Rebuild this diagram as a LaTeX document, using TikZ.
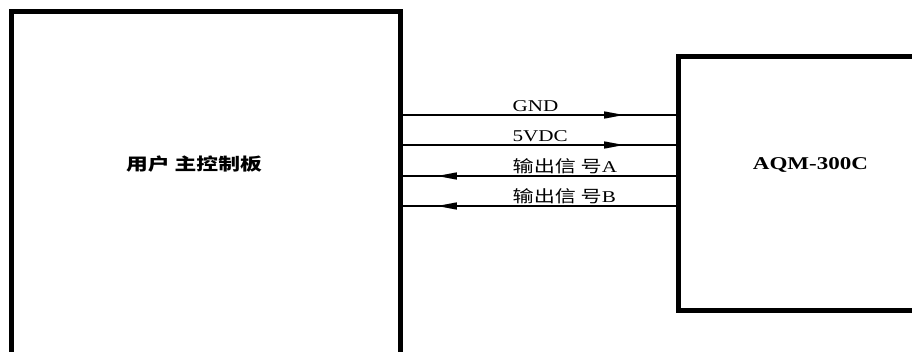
\documentclass[tikz,border=0pt]{standalone}
\usepackage{fontspec}
\setmainfont{Liberation Serif}[FakeStretch=1.28]
\newfontfamily\cjk{Noto Sans CJK SC}[FakeStretch=1.28]
\usetikzlibrary{arrows.meta,decorations.markings}
\tikzset{
>={Triangle[length=20pt,width=7pt]},
main node/.style={draw,line width=5pt,inner sep=0pt},
filo/.style={line width=1.5pt},
avanti/.style={postaction={decorate},decoration={markings,mark=at position #1 with {\arrow{>}}}},
indietro/.style={postaction={decorate},decoration={markings,mark=at position #1 with {\arrowreversed{>}}}},
etichetta/.style={anchor=base west,yshift=3.5pt,inner sep=0pt,font=\fontsize{16.5}{18}\selectfont}}

\begin{document}
\begin{tikzpicture}[x=1pt,y=-1pt]
\useasboundingbox (0,0) rectangle (912,351);

\node[main node,minimum width=388.5pt,minimum height=389pt] (scheda) at (205.75,205.5) {};
\node[main node,minimum width=281.5pt,minimum height=254.5pt] (aqm) at (819.25,183.25) {};

\node[font=\cjk\bfseries\fontsize{17}{19}\selectfont] (nomescheda) at (194,164) {用户 主控制板};
\node[font=\bfseries\fontsize{18}{20}\selectfont] (nomeaqm) at (810.5,165) {AQM-300C};

\draw[filo,avanti=0.81] (scheda.east |- 0,115) -- node[etichetta,pos=0.4] (gnd) {GND} (aqm.west |- 0,115);
\draw[filo,avanti=0.81] (scheda.east |- 0,145) -- node[etichetta,pos=0.4] (vdc) {5VDC} (aqm.west |- 0,145);
\draw[filo,indietro=0.126] (scheda.east |- 0,176) -- node[etichetta,pos=0.4] (outa) {{\cjk 输出信 号}A} (aqm.west |- 0,176);
\draw[filo,indietro=0.126] (scheda.east |- 0,206) -- node[etichetta,pos=0.4] (outb) {{\cjk 输出信 号}B} (aqm.west |- 0,206);

\end{tikzpicture}
\end{document}
